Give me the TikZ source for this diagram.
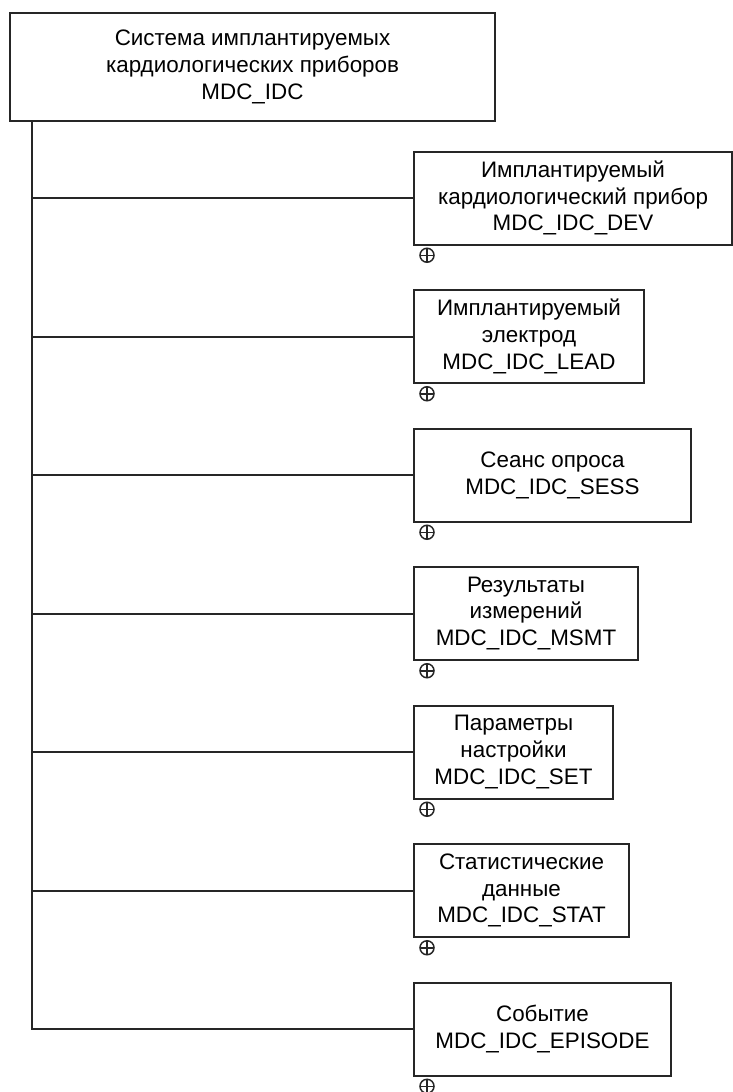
\documentclass[tikz,border=0pt]{standalone}
\usepackage{fontspec}
\setmainfont{Liberation Sans}
\usetikzlibrary{positioning}

\begin{document}
\begin{tikzpicture}[
    node distance=21.75pt,
    every node/.style={draw=black!85, line width=1pt, rectangle, minimum height=46.5pt, inner sep=2pt, align=center, font=\fontsize{11.2}{13.4}\selectfont},
    link/.style={line width=1pt, draw=black!85},
    plus/.style={circle, minimum size=7pt, minimum height=7pt, inner sep=0pt, line width=0.75pt, path picture={\draw[line width=0.75pt] (path picture bounding box.north) -- (path picture bounding box.south) (path picture bounding box.west) -- (path picture bounding box.east);}}
]
\useasboundingbox (0,0) rectangle (366.5pt,-546pt);
\node[minimum width=242.5pt, minimum height=54pt] (0) at (126.25pt,-33.5pt) {Система имплантируемых\\кардиологических приборов\\MDC\_IDC};
\node[minimum width=159pt, anchor=west] (1) at (206.5pt,-99pt) {Имплантируемый\\кардиологический прибор\\MDC\_IDC\_DEV};
\node[minimum width=115pt, below=of 1.south west, anchor=north west] (2) {Имплантируемый\\электрод\\MDC\_IDC\_LEAD};
\node[minimum width=138.5pt, below=of 2.south west, anchor=north west] (3) {Сеанс опроса\\MDC\_IDC\_SESS};
\node[minimum width=112pt, below=of 3.south west, anchor=north west] (4) {Результаты\\измерений\\MDC\_IDC\_MSMT};
\node[minimum width=99.5pt, below=of 4.south west, anchor=north west] (5) {Параметры\\настройки\\MDC\_IDC\_SET};
\node[minimum width=107.5pt, below=of 5.south west, anchor=north west] (6) {Статистические\\данные\\MDC\_IDC\_STAT};
\node[minimum width=128.5pt, below=of 6.south west, anchor=north west] (7) {Событие\\MDC\_IDC\_EPISODE};

\node[plus, below=1pt of 1.south west, xshift=7pt] (p1) {};
\node[plus, below=1pt of 2.south west, xshift=7pt] (p2) {};
\node[plus, below=1pt of 3.south west, xshift=7pt] (p3) {};
\node[plus, below=1pt of 4.south west, xshift=7pt] (p4) {};
\node[plus, below=1pt of 5.south west, xshift=7pt] (p5) {};
\node[plus, below=1pt of 6.south west, xshift=7pt] (p6) {};
\node[plus, below=1pt of 7.south west, xshift=7pt] (p7) {};

\coordinate[right=11.5pt of 0.south west] (t);
\draw[link] (t) |- (7.west);
\draw[link] (t |- 1.west) -- (1.west);
\draw[link] (t |- 2.west) -- (2.west);
\draw[link] (t |- 3.west) -- (3.west);
\draw[link] (t |- 4.west) -- (4.west);
\draw[link] (t |- 5.west) -- (5.west);
\draw[link] (t |- 6.west) -- (6.west);
\end{tikzpicture}
\end{document}
